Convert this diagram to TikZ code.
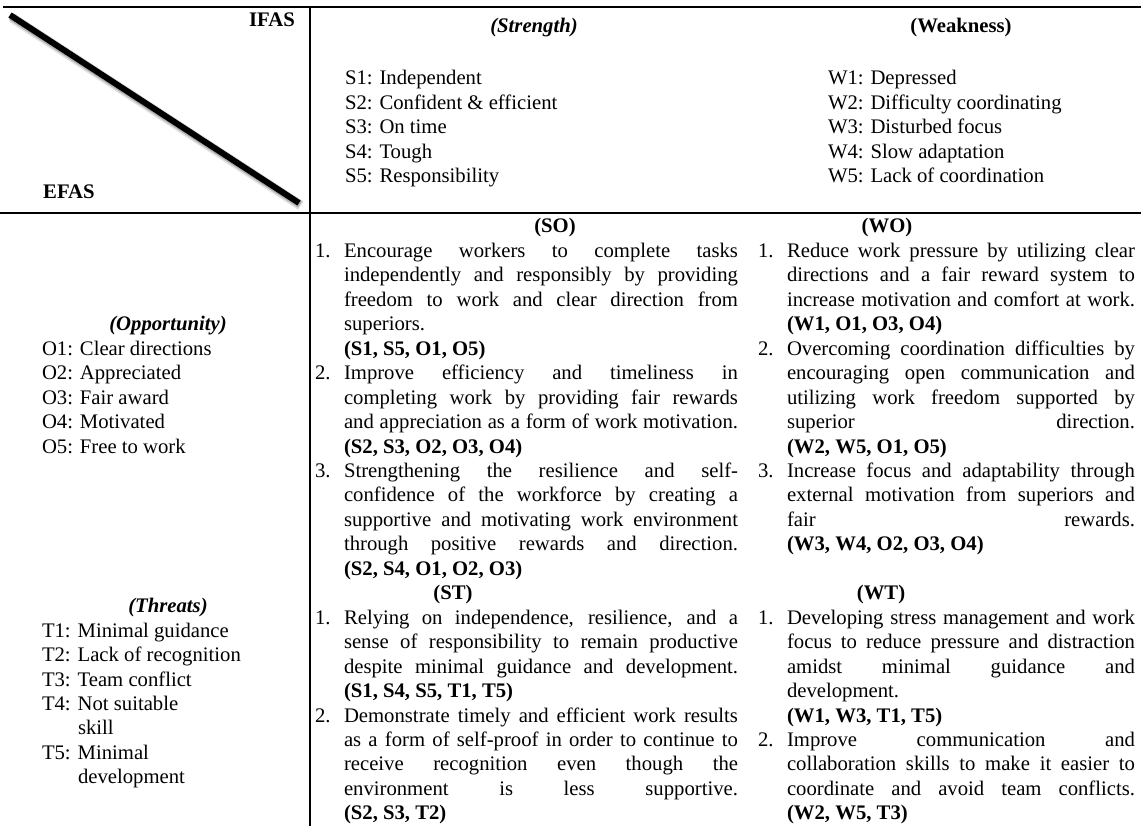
\documentclass[tikz,border=0pt]{standalone}
\usepackage{fontspec}
\setmainfont{Liberation Serif}
\newcommand\fs{\fontsize{20.7}{24.45}\selectfont}
\newcommand\Yk[1]{233+24.45*(#1)}
% middle column
\newcommand\mJ[2]{\node[ln] (m#1) at (344,{\Yk{#1}}) {\makebox[394pt][s]{#2}};}
\newcommand\mN[2]{\node[ln] (m#1) at (344,{\Yk{#1}}) {#2};}
\newcommand\mB[2]{\node[ln,font=\fs\bfseries] (m#1) at (344,{\Yk{#1}}) {#2};}
\newcommand\mNum[2]{\node[ln] (mn#1) at (315,{\Yk{#1}}) {#2};}
% right column
\newcommand\rJ[2]{\node[ln] (r#1) at (787,{\Yk{#1}}) {\makebox[348pt][s]{#2}};}
\newcommand\rN[2]{\node[ln] (r#1) at (787,{\Yk{#1}}) {#2};}
\newcommand\rB[2]{\node[ln,font=\fs\bfseries] (r#1) at (787,{\Yk{#1}}) {#2};}
\newcommand\rNum[2]{\node[ln] (rn#1) at (758,{\Yk{#1}}) {#2};}
\begin{document}
\begin{tikzpicture}[x=1pt,y=-1pt,
  ln/.style={anchor=base west,inner sep=0pt,outer sep=0pt,font=\fs},
  hd/.style={anchor=base,inner sep=0pt,outer sep=0pt,font=\fs\bfseries},
  hdi/.style={anchor=base,inner sep=0pt,outer sep=0pt,font=\fs\bfseries\itshape},
  rule/.style={line width=1.8pt,black}]
\useasboundingbox (0,0) rectangle (1141,826);
\fill[white] (0,0) rectangle (1141,826);
% grid
\coordinate (tl) at (3,6.7);
\coordinate (tr) at (1141,6.7);
\coordinate (vt) at (310,6.7);
\coordinate (vb) at (310,826);
\coordinate (ml) at (0,213);
\coordinate (mr) at (1141,213);
\draw[rule] (tl) -- (tr);
\draw[rule] (ml) -- (mr);
\draw[rule] (vt) -- (vb);
% diagonal with shadow
\coordinate (d1) at (10,15);
\coordinate (d2) at (299,203);
\draw[line width=10pt,black!12,line cap=butt] ([shift={(1.8,2.6)}]d1) -- ([shift={(1.8,2.6)}]d2);
\draw[line width=7.5pt,black!30,line cap=butt] ([shift={(1,1.6)}]d1) -- ([shift={(1,1.6)}]d2);
\draw[line width=6pt,black,line cap=butt] (d1) -- (d2);
\node[anchor=base east,inner sep=0pt,font=\fs\bfseries] (ifas) at (295,26.7) {IFAS};
\node[anchor=base west,inner sep=0pt,font=\fs\bfseries] (efas) at (43,198.3) {EFAS};
% headers
\node[hdi] (str) at (534,33) {(Strength)};
\node[hd] (wk) at (961,33) {(Weakness)};
% S list
\foreach \t [count=\i from 0] in {S1: Independent,S2: Confident \& efficient,S3: On time,S4: Tough,S5: Responsibility}
  \node[ln] (s\i) at (345,{85+24.4*\i}) {\t};
\foreach \t [count=\i from 0] in {W1: Depressed,W2: Difficulty coordinating,W3: Disturbed focus,W4: Slow adaptation,W5: Lack of coordination}
  \node[ln] (w\i) at (828,{85+24.4*\i}) {\t};
% left column
\node[hdi] (opp) at (168,{\Yk{4}}) {(Opportunity)};
\foreach \t [count=\i from 5] in {O1: Clear directions,O2: Appreciated,O3: Fair award,O4: Motivated,O5: Free to work}
  \node[ln] (o\i) at (42,{\Yk{\i}}) {\t};
\node[hdi] (thr) at (168,612.6) {(Threats)};
\node[ln] (t1) at (42,637) {T1: Minimal guidance};
\node[ln] (t2) at (42,661.5) {T2: Lack of recognition};
\node[ln] (t3) at (42,686) {T3: Team conflict};
\node[ln] (t4) at (42,710.4) {T4: Not suitable};
\node[ln] (t4b) at (78,734.8) {skill};
\node[ln] (t5) at (42,759.3) {T5: Minimal};
\node[ln] (t5b) at (78,783.7) {development};
% SO / ST
\node[hd] (so) at (555,{\Yk{0}}) {(SO)};
\mNum{1}{1.}
\mJ{1}{Encourage workers to complete tasks}
\mJ{2}{independently and responsibly by providing}
\mJ{3}{freedom to work and clear direction from}
\mN{4}{superiors.}
\mB{5}{(S1, S5, O1, O5)}
\mNum{6}{2.}
\mJ{6}{Improve efficiency and timeliness in}
\mJ{7}{completing work by providing fair rewards}
\mJ{8}{and appreciation as a form of work motivation.}
\mB{9}{(S2, S3, O2, O3, O4)}
\mNum{10}{3.}
\mJ{10}{Strengthening the resilience and self-}
\mJ{11}{confidence of the workforce by creating a}
\mJ{12}{supportive and motivating work environment}
\mJ{13}{through positive rewards and direction.}
\mB{14}{(S2, S4, O1, O2, O3)}
\node[hd] (st) at (453,{\Yk{15}}) {(ST)};
\mNum{16}{1.}
\mJ{16}{Relying on independence, resilience, and a}
\mJ{17}{sense of responsibility to remain productive}
\mJ{18}{despite minimal guidance and development.}
\mB{19}{(S1, S4, S5, T1, T5)}
\mNum{20}{2.}
\mJ{20}{Demonstrate timely and efficient work results}
\mJ{21}{as a form of self-proof in order to continue to}
\mJ{22}{receive recognition even though the}
\mJ{23}{environment is less supportive.}
\mB{24}{(S2, S3, T2)}
% WO / WT
\node[hd] (wo) at (887,{\Yk{0}}) {(WO)};
\rNum{1}{1.}
\rJ{1}{Reduce work pressure by utilizing clear}
\rJ{2}{directions and a fair reward system to}
\rJ{3}{increase motivation and comfort at work.}
\rB{4}{(W1, O1, O3, O4)}
\rNum{5}{2.}
\rJ{5}{Overcoming coordination difficulties by}
\rJ{6}{encouraging open communication and}
\rJ{7}{utilizing work freedom supported by}
\rJ{8}{superior direction.}
\rB{9}{(W2, W5, O1, O5)}
\rNum{10}{3.}
\rJ{10}{Increase focus and adaptability through}
\rJ{11}{external motivation from superiors and}
\rJ{12}{fair rewards.}
\rB{13}{(W3, W4, O2, O3, O4)}
\node[hd] (wt) at (881,{\Yk{15}}) {(WT)};
\rNum{16}{1.}
\rJ{16}{Developing stress management and work}
\rJ{17}{focus to reduce pressure and distraction}
\rJ{18}{amidst minimal guidance and}
\rN{19}{development.}
\rB{20}{(W1, W3, T1, T5)}
\rNum{21}{2.}
\rJ{21}{Improve communication and}
\rJ{22}{collaboration skills to make it easier to}
\rJ{23}{coordinate and avoid team conflicts.}
\rB{24}{(W2, W5, T3)}
\end{tikzpicture}
\end{document}
